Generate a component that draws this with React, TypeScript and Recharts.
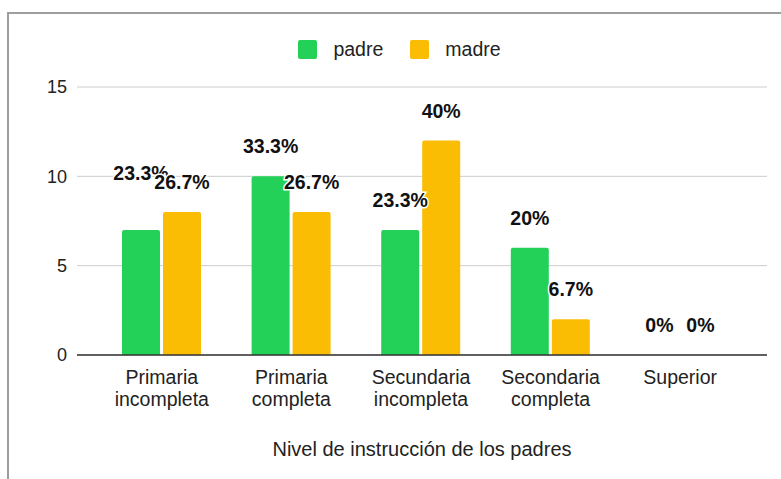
import React from 'react';
import { BarChart, Bar, XAxis, YAxis, CartesianGrid, Legend, LabelList, Label } from 'recharts';

const categories = [
  'Primaria incompleta',
  'Primaria completa',
  'Secundaria incompleta',
  'Secondaria completa',
  'Superior',
];
const padre = [7, 10, 7, 6, 0];
const madre = [8, 8, 12, 2, 0];
const padrePct = ['23.3%', '33.3%', '23.3%', '20%', '0%'];
const madrePct = ['26.7%', '26.7%', '40%', '6.7%', '0%'];
const yTicks = [0, 5, 10, 15];
const seriesOrder = ['padre', 'madre'];

const GREEN = '#24d158';
const YELLOW = '#fbbc04';
const FONT = '"Liberation Sans", Arial, sans-serif';

const data = categories.map((name, i) => ({
  name,
  padre: padre[i],
  madre: madre[i],
  padrePct: padrePct[i],
  madrePct: madrePct[i],
}));

// tick de dos lineas (corta en el primer espacio)
const CategoryTick = (props: any) => {
  const { x, y, payload } = props;
  const txt: string = payload.value;
  const idx = txt.indexOf(' ');
  const lines = idx > 0 ? [txt.slice(0, idx), txt.slice(idx + 1)] : [txt];
  return (
    <text x={x} y={y} textAnchor="middle" fill="#222" fontSize={19.5} fontFamily={FONT}>
      {lines.map((l, i) => (
        <tspan key={i} x={x} dy={i === 0 ? 21 : 22}>
          {l}
        </tspan>
      ))}
    </text>
  );
};

const makeLabel = (series: string) => (props: any) => {
  const { x, y, width, value, index } = props;
  // el primer rotulo de padre queda desplazado para no chocar con madre
  const bump = series === 'padre' && index === 0 ? 27 : 0;
  return (
    <text
      key={`${series}-${index}`}
      x={x + width / 2}
      y={y - 23 - bump}
      textAnchor="middle"
      fontSize={19.5}
      fontWeight="bold"
      fontFamily={FONT}
      fill="#111"
      stroke="#fff"
      strokeWidth={3}
      paintOrder="stroke"
    >
      {value}
    </text>
  );
};

const LegendContent = (props: any) => {
  const payload = [...(props.payload || [])].sort(
    (a: any, b: any) => seriesOrder.indexOf(a.value) - seriesOrder.indexOf(b.value)
  );
  return (
    <div style={{ display: 'flex', justifyContent: 'center', paddingLeft: 18, fontFamily: FONT }}>
      {payload.map((p: any, i: number) => (
        <div key={i} style={{ display: 'flex', alignItems: 'center', marginRight: i === 0 ? 27 : 0 }}>
          <span
            style={{
              display: 'inline-block',
              width: 19,
              height: 19,
              borderRadius: 2,
              background: p.color,
              marginRight: 16,
            }}
          />
          <span style={{ fontSize: 19.5, color: '#222' }}>{p.value}</span>
        </div>
      ))}
    </div>
  );
};

export default function App() {
  return (
    <div style={{ position: 'absolute', left: 0, top: 0, width: 781, height: 479, background: '#fff' }}>
      <div
        style={{
          position: 'absolute',
          left: 7,
          top: 12,
          width: 781,
          height: 479,
          borderLeft: '2px solid #9e9e9e',
          borderTop: '2px solid #9e9e9e',
        }}
      />
      <div style={{ position: 'absolute', left: 0, top: 0 }}>
        <BarChart
          width={781}
          height={479}
          data={data}
          margin={{ top: 87, right: 14, bottom: 0, left: 0 }}
          barCategoryGap={25}
          barGap={3}
        >
          <CartesianGrid vertical={false} stroke="#cccccc" />
          <XAxis
            dataKey="name"
            height={124}
            tick={<CategoryTick />}
            tickLine={false}
            axisLine={{ stroke: '#333', strokeWidth: 1.5 }}
            padding={{ left: 20, right: 22 }}
            interval={0}
          >
            <Label
              value="Nivel de instrucción de los padres"
              position="insideBottom"
              offset={23}
              fill="#222"
              fontSize={20}
              fontFamily={FONT}
            />
          </XAxis>
          <YAxis
            width={77}
            domain={[0, 15]}
            ticks={yTicks}
            axisLine={false}
            tickLine={false}
            tickSize={0}
            tickMargin={10}
            tick={{ fill: '#222', fontSize: 18, fontFamily: FONT }}
          />
          <Legend
            verticalAlign="middle"
            align="center"
            content={<LegendContent />}
            wrapperStyle={{ top: 38, left: 0, width: 781, height: 20 }}
          />
          <Bar
            dataKey="padre"
            name="padre"
            fill={GREEN}
            radius={[2, 2, 0, 0]}
            minPointSize={0.01}
            isAnimationActive={false}
          >
            <LabelList dataKey="padrePct" content={makeLabel('padre')} />
          </Bar>
          <Bar
            dataKey="madre"
            name="madre"
            fill={YELLOW}
            radius={[2, 2, 0, 0]}
            minPointSize={0.01}
            isAnimationActive={false}
          >
            <LabelList dataKey="madrePct" content={makeLabel('madre')} />
          </Bar>
        </BarChart>
      </div>
    </div>
  );
}
